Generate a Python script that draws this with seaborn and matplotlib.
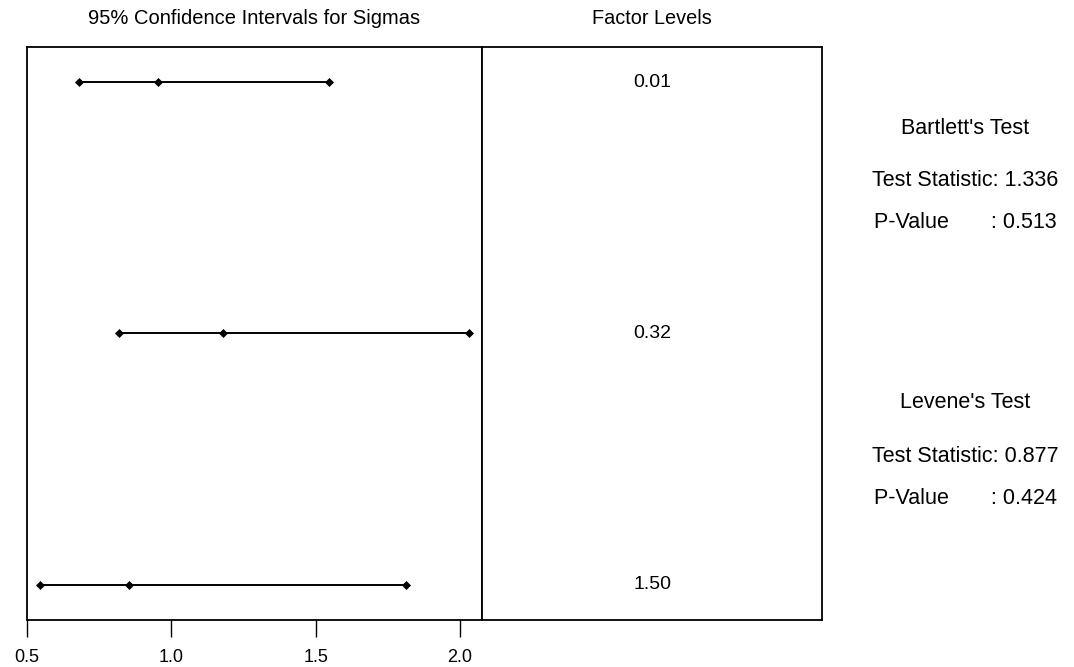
import pandas as pd
import seaborn as sns
import matplotlib.pyplot as plt

# factor levels and 95% CI for sigma (lower, estimate, upper)
levels = ["0.01", "0.32", "1.50"]
lower = [0.680, 0.819, 0.547]
sigma = [0.954, 1.181, 0.855]
upper = [1.547, 2.030, 1.814]

bartlett = ["Bartlett's Test", "Test Statistic: 1.336", "P-Value       : 0.513"]
levene = ["Levene's Test", "Test Statistic: 0.877", "P-Value       : 0.424"]

xticks = [0.5, 1.0, 1.5, 2.0]

# long form table for seaborn
rows = []
for i, lev in enumerate(levels):
    for v in (lower[i], sigma[i], upper[i]):
        rows.append({"level": lev, "pos": i, "sigma": v})
df = pd.DataFrame(rows)

sns.set_style("white")
plt.rcParams['font.family'] = ['Liberation Sans', 'DejaVu Sans']
plt.rcParams['text.color'] = 'black'

fig = plt.figure(figsize=(10.74, 6.67), dpi=100)
ax = fig.add_axes([0.0249, 0.0705, 0.4239, 0.8595])
ax2 = fig.add_axes([0.4488, 0.0705, 0.3166, 0.8595])

sns.lineplot(data=df, x="sigma", y="pos", units="level", estimator=None,
             color="black", marker="D", markersize=4.5, linewidth=1.4,
             markeredgecolor="black", markeredgewidth=0.5, ax=ax, legend=False)

ax.set_xlim(0.5, 2.076)
ax.set_ylim(2.141, -0.141)
ax.set_xticks(xticks)
ax.set_xticklabels([f"{t:.1f}" for t in xticks], fontsize=13)
ax.set_yticks([])
ax.set_xlabel("")
ax.set_ylabel("")
ax.tick_params(axis="x", direction="out", length=12, width=1, pad=9,
               bottom=True, colors="black", labelcolor="black")

for a in (ax, ax2):
    for s in a.spines.values():
        s.set_color("black")
        s.set_linewidth(1.3)

ax2.set_xlim(0, 1)
ax2.set_ylim(2.141, -0.141)
ax2.set_xticks([])
ax2.set_yticks([])
for i, lev in enumerate(levels):
    ax2.text(0.5, i, lev, ha="center", va="center", fontsize=14, color="black")

fig.text(254 / 1074, 1 - 19 / 667, "95% Confidence Intervals for Sigmas",
         ha="center", va="center", fontsize=14.5, color="black")
fig.text(652 / 1074, 1 - 19 / 667, "Factor Levels",
         ha="center", va="center", fontsize=14.3, color="black")

ys_b = [128, 181, 223]
ys_l = [403, 456, 498]
for txt, y in zip(bartlett, ys_b):
    fig.text(965 / 1074, 1 - y / 667, txt, ha="center", va="center",
             fontsize=15.5, color="black")
for txt, y in zip(levene, ys_l):
    fig.text(965 / 1074, 1 - y / 667, txt, ha="center", va="center",
             fontsize=15.5, color="black")

fig.savefig("out.png", dpi=100)
